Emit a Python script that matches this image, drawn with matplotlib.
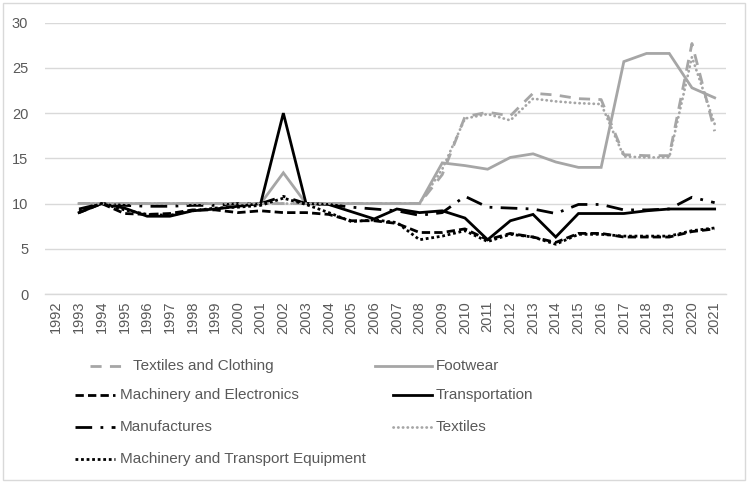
import numpy as np
import matplotlib
matplotlib.use("Agg")
import matplotlib.pyplot as plt
from matplotlib.lines import Line2D
from matplotlib.patches import Rectangle

plt.rcParams['font.family'] = ['Liberation Sans', 'DejaVu Sans']

years = list(range(1992, 2022))

# values from 1993 to 2021 (1992 has no observation)
textiles_clothing = [10, 10, 10, 10, 10, 10, 10, 10, 10, 10, 10, 10, 10, 10, 10, 10,
                     13.2, 19.6, 20.1, 19.7, 22.2, 22.0, 21.6, 21.5, 15.4, 15.3, 15.3, 27.7, 18.0]
footwear = [10, 10, 10, 10, 10, 10, 10, 10, 10, 13.4, 10, 10, 10, 10, 10, 10,
            14.5, 14.2, 13.8, 15.1, 15.5, 14.6, 14.0, 14.0, 25.7, 26.6, 26.6, 22.8, 21.7]
machinery_electronics = [9.0, 10.0, 8.9, 8.8, 8.9, 9.3, 9.3, 9.0, 9.2, 9.0, 9.0, 8.8, 8.1, 8.1, 7.8,
                         6.8, 6.8, 7.2, 6.0, 6.7, 6.3, 5.7, 6.7, 6.7, 6.3, 6.3, 6.3, 6.9, 7.2]
transportation = [9.0, 10.0, 9.5, 8.6, 8.6, 9.2, 9.4, 9.7, 10.0, 20.0, 10.0, 9.9, 9.1, 8.3, 9.4,
                  9.0, 9.2, 8.4, 6.0, 8.1, 8.8, 6.3, 8.9, 8.9, 8.9, 9.2, 9.4, 9.4, 9.4]
manufactures = [9.4, 10.0, 9.8, 9.7, 9.7, 9.8, 9.8, 10.0, 10.0, 10.8, 10.0, 9.9, 9.6, 9.4, 9.2,
                8.7, 9.0, 10.8, 9.6, 9.5, 9.4, 8.9, 9.9, 9.9, 9.3, 9.3, 9.4, 10.7, 10.1]
textiles = [10, 10, 10, 10, 10, 10, 10, 10, 10, 10, 10, 10, 10, 10, 10, 10,
            13.8, 19.4, 19.9, 19.2, 21.6, 21.3, 21.1, 21.0, 15.2, 15.1, 15.1, 26.2, 18.8]
machinery_transport = [9.2, 10.0, 9.3, 8.8, 8.7, 9.2, 9.5, 9.6, 9.8, 10.6, 9.9, 9.0, 8.0, 8.2, 7.9,
                       6.0, 6.4, 7.0, 5.8, 6.6, 6.3, 5.5, 6.6, 6.6, 6.4, 6.4, 6.4, 7.0, 7.3]

GRAY = "#a6a6a6"
BLACK = "#000000"
LW = 2.0

series = [
    ("Textiles and Clothing", textiles_clothing, dict(color=GRAY, dashes=(4, 3))),
    ("Footwear", footwear, dict(color=GRAY)),
    ("Machinery and Electronics", machinery_electronics, dict(color=BLACK, dashes=(3, 1.5))),
    ("Transportation", transportation, dict(color=BLACK)),
    ("Manufactures", manufactures, dict(color=BLACK, dashes=(6, 3, 1, 3))),
    ("Textiles", textiles, dict(color=GRAY, dashes=(0.1, 1.6), dash_capstyle="round")),
    ("Machinery and Transport Equipment", machinery_transport, dict(color=BLACK, dashes=(1, 1))),
]

W, H = 748, 483
fig = plt.figure(figsize=(W / 100, H / 100), dpi=100)

def fx(px):
    return px / W

def fy(py):
    return 1 - py / H

ax_left, ax_right, ax_top, ax_bottom = 45, 726, 22.7, 294
ax = fig.add_axes([fx(ax_left), fy(ax_bottom), fx(ax_right - ax_left), (ax_bottom - ax_top) / H])

x = np.arange(len(years))
for name, vals, style in series:
    y = np.array([np.nan] + list(vals), dtype=float)
    ax.plot(x, y, lw=LW, solid_joinstyle="miter", **style)

ax.set_xlim(-0.5, len(years) - 0.5)
ax.set_ylim(0, 30)
ax.set_yticks(range(0, 31, 5))
ax.set_xticks(x)
ax.set_xticklabels([str(yv) for yv in years], rotation=90)
ax.tick_params(axis="both", length=0, colors="#595959", labelsize=10.5)
ax.tick_params(axis="x", pad=5)
ax.tick_params(axis="y", pad=12)
ax.grid(axis="y", color="#d9d9d9", lw=1.0)
ax.set_axisbelow(True)
for side in ("top", "right", "left"):
    ax.spines[side].set_visible(False)
ax.spines["bottom"].set_color("#d9d9d9")
ax.spines["bottom"].set_linewidth(1.0)

# legend laid out in two columns below the chart
rows_y = [366, 395, 427, 459]
handles = {0: (90, 128), 1: (375, 432), 2: (75, 115), 3: (393, 432),
           4: (75, 115), 5: (393, 432), 6: (75, 115)}
texts = {0: 133, 1: 436, 2: 120, 3: 436, 4: 120, 5: 436, 6: 120}
for i, (name, vals, style) in enumerate(series):
    r = i // 2
    x0, x1 = handles[i]
    ln = Line2D([fx(x0), fx(x1)], [fy(rows_y[r]), fy(rows_y[r])], transform=fig.transFigure,
                lw=LW, **style)
    fig.add_artist(ln)
    fig.text(fx(texts[i]), fy(rows_y[r]), name, ha="left", va="center",
             fontsize=11, color="#595959")

fig.add_artist(Rectangle((fx(3), fy(480)), fx(742), (477) / H, transform=fig.transFigure,
                         fill=False, edgecolor="#d9d9d9", lw=1.0))

fig.savefig("out.png", dpi=100)
